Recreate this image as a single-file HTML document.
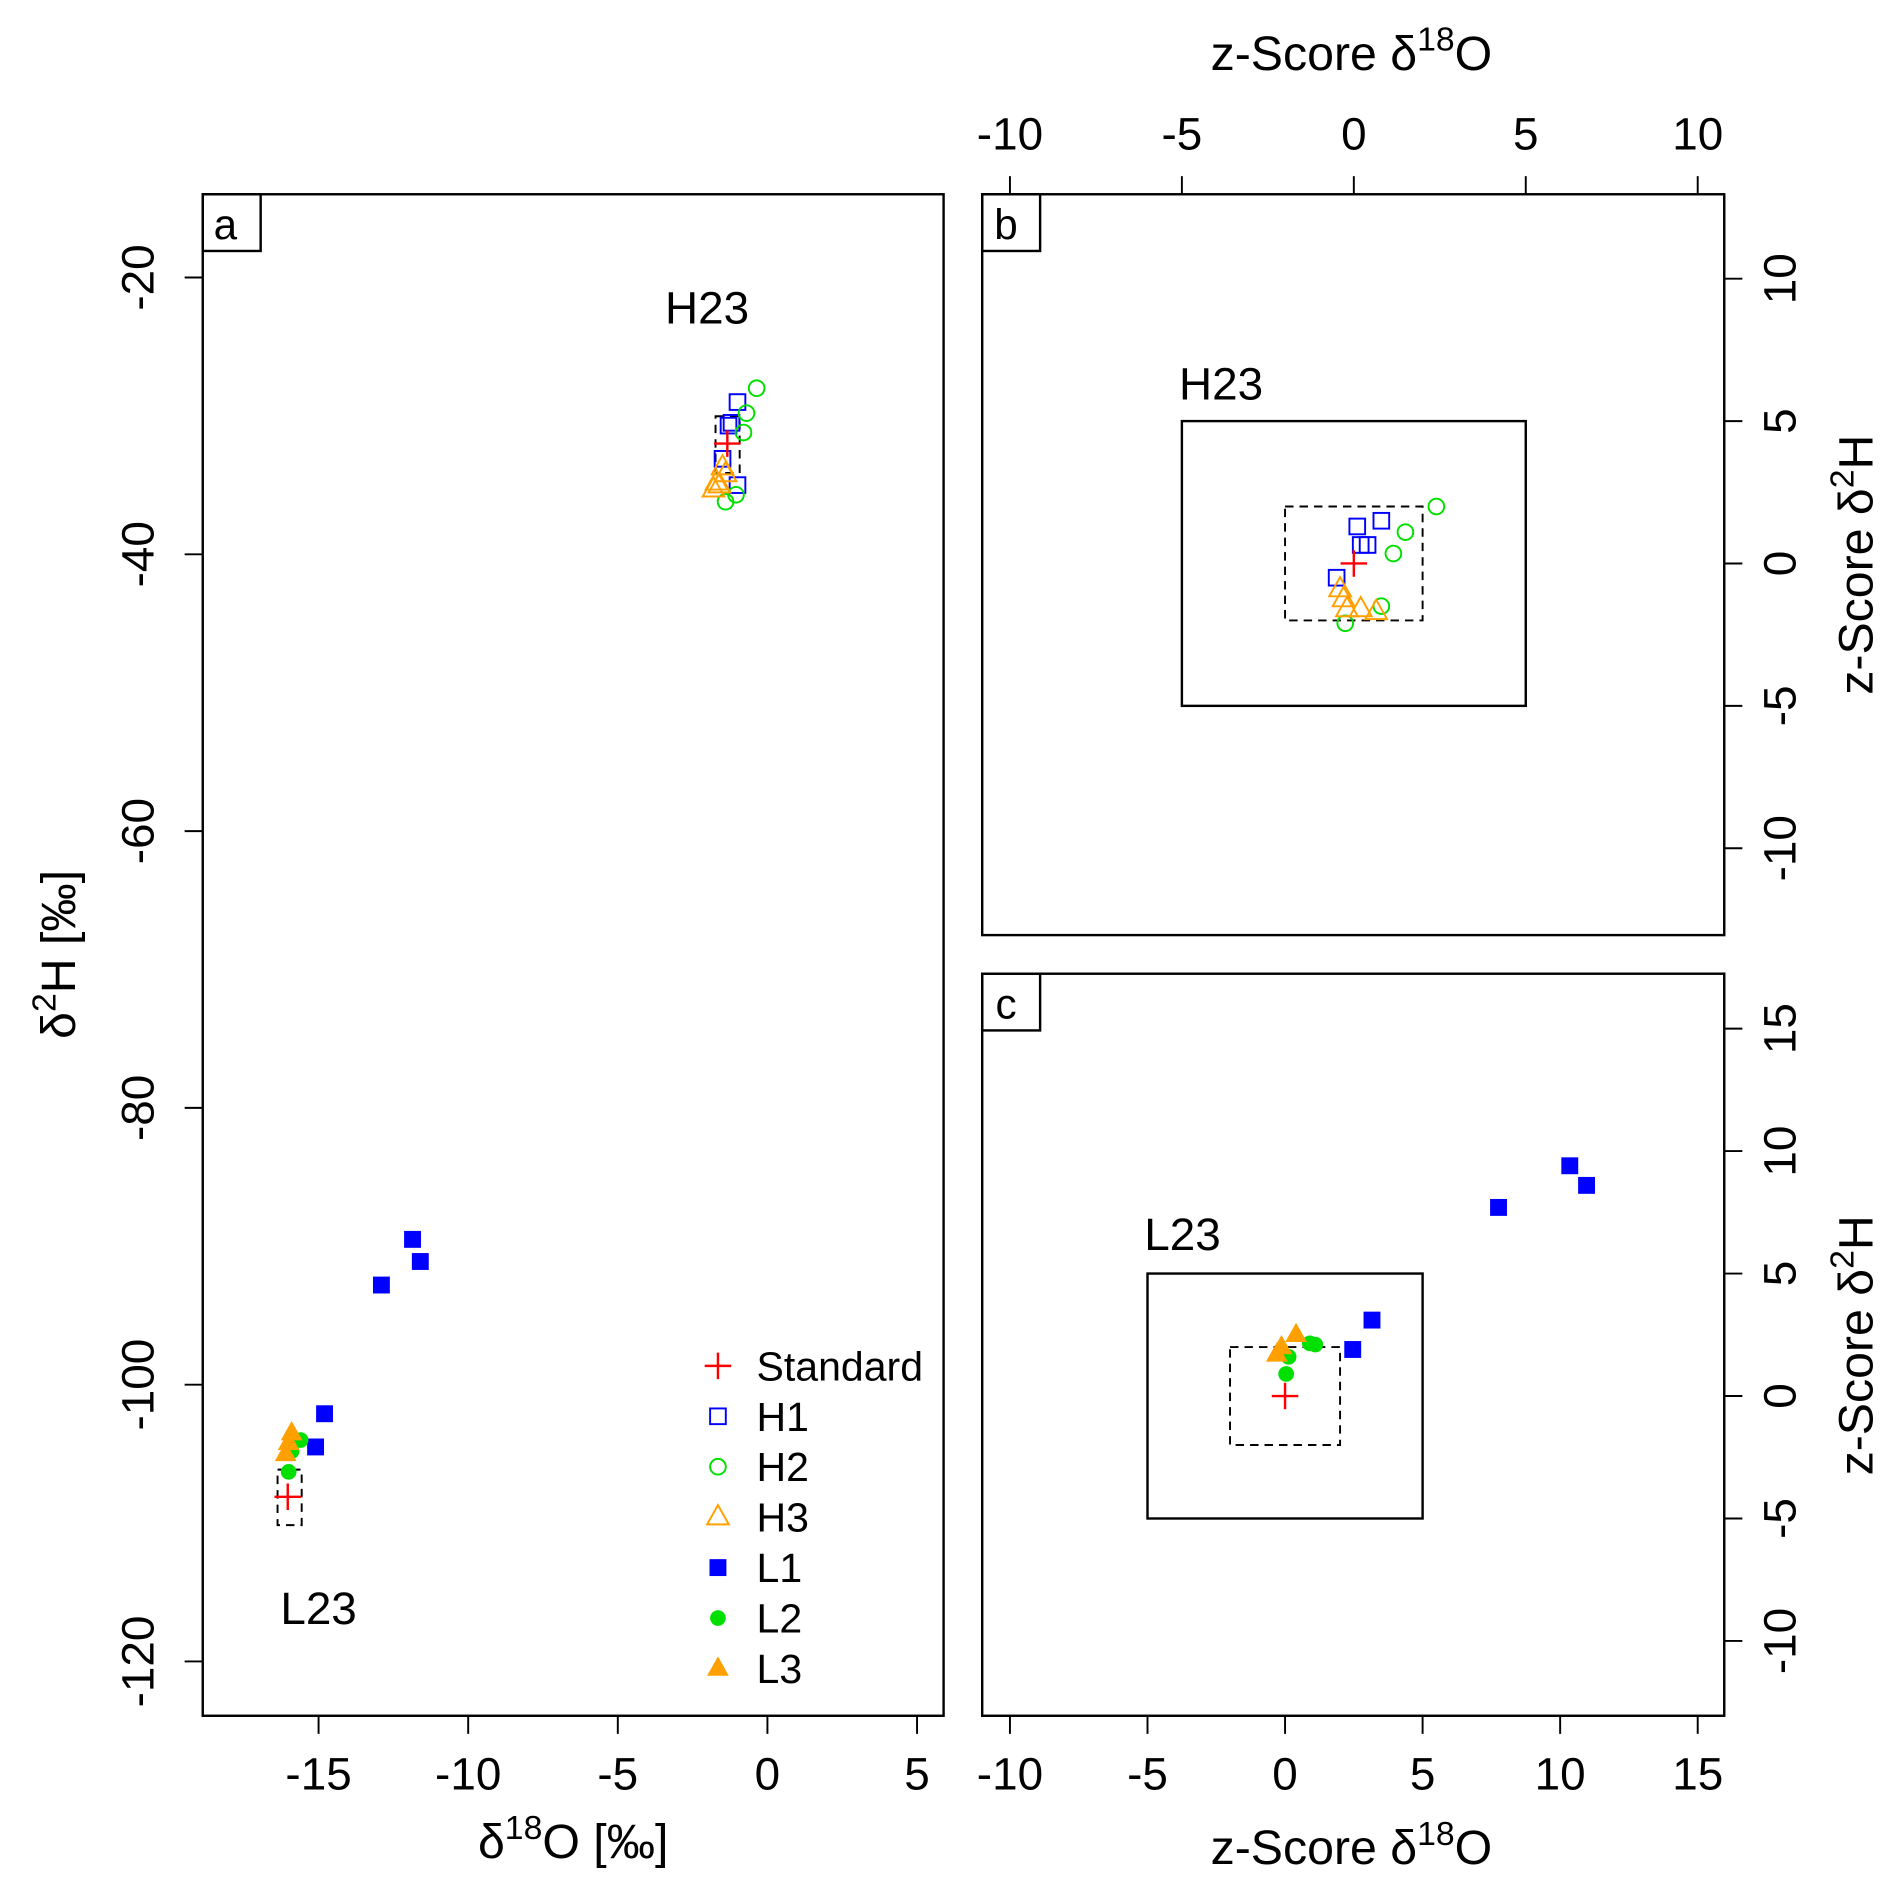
<!DOCTYPE html>
<html><head><meta charset="utf-8"><style>
html,body{margin:0;padding:0;background:#fff;}
svg{display:block;font-family:"Liberation Sans",sans-serif;}
</style></head><body>
<svg id="fig" width="1892" height="1883" viewBox="0 0 1568 1560.6" xmlns="http://www.w3.org/2000/svg"></svg>
<script>
// ---- Panel a data (per mil) ----
const aStdX=[-1.34,-16.03];
const aStdY=[-32.0,-108.1];
const aH1X=[-1.0,-1.2,-1.5,-1.0,-1.3];
const aH1Y=[-29.0,-30.5,-33.1,-35.0,-30.7];
const aH2X=[-0.36,-0.7,-0.8,-1.05,-1.4];
const aH2Y=[-28.0,-29.8,-31.2,-35.7,-36.2];
const aH3X=[-1.5,-1.7,-1.8,-1.4,-1.6];
const aH3Y=[-33.7,-34.8,-35.3,-34.2,-35.0];
const aL1X=[-11.86,-11.6,-12.9,-14.8,-15.1];
const aL1Y=[-89.5,-91.1,-92.8,-102.1,-104.5];
const aL2X=[-15.6,-16.0,-15.9];
const aL2Y=[-104.0,-106.3,-104.8];
const aL3X=[-15.9,-16.0,-16.1];
const aL3Y=[-103.5,-104.2,-105.0];
const aXTicks=[-15,-10,-5,0,5];
const aYTicks=[-20,-40,-60,-80,-100,-120];
// ---- Panel b data (z-scores, H23) ----
const bH1X=[0.8,0.1,0.2,0.4,-0.5];
const bH1Y=[1.5,1.3,0.65,0.65,-0.5];
const bH2X=[2.4,1.5,1.15,0.8,-0.25];
const bH2Y=[2.0,1.1,0.35,-1.5,-2.1];
const bH3X=[-0.4,-0.3,-0.2,0.2,0.65];
const bH3Y=[-0.9,-1.25,-1.6,-1.6,-1.7];
const bXTicks=[-10,-5,0,5,10];
const bYTicks=[10,5,0,-5,-10];
// ---- Panel c data (z-scores, L23) ----
const cL1X=[10.35,10.96,7.76,3.16,2.46];
const cL1Y=[9.4,8.6,7.7,3.1,1.9];
const cL2X=[1.1,0.13,0.04,0.9];
const cL2Y=[2.1,1.6,0.9,2.15];
const cL3X=[0.4,-0.13,-0.3];
const cL3Y=[2.5,2.0,1.7];
const cXTicks=[-10,-5,0,5,10,15];
const cYTicks=[15,10,5,0,-5,-10];

const svg=document.getElementById('fig');
const NS='http://www.w3.org/2000/svg';
const TF=38, TT=40;
function mk(tag,attrs,parent){const e=document.createElementNS(NS,tag);for(const k in attrs)e.setAttribute(k,attrs[k]);(parent||svg).appendChild(e);return e;}
function lin(d0,d1,r0,r1){return v=>r0+(v-d0)*(r1-r0)/(d1-d0);}

const ax=lin(0,5,636,760), ay=lin(-20,-120,230,1377);
const bx=lin(0,10,1122,1407), by=lin(0,10,467,231);
const cx=lin(0,15,1065,1407), cy=lin(0,10,1157,954);

const BLUE='#0000ff',GREEN='#00e000',ORANGE='#ffa000',RED='#ff0000';
function marker(type,x,y,g){
  let e;
  if(type==='plus'){e=mk('path',{d:`M${x-11} ${y}H${x+11}M${x} ${y-11}V${y+11}`,stroke:RED,'stroke-width':2,fill:'none'},g);}
  else if(type==='sq'){e=mk('rect',{x:x-6.5,y:y-6.5,width:13,height:13,fill:'none',stroke:BLUE,'stroke-width':1.6},g);}
  else if(type==='sqf'){e=mk('rect',{x:x-7,y:y-7,width:14,height:14,fill:BLUE},g);}
  else if(type==='circ'){e=mk('circle',{cx:x,cy:y,r:6.5,fill:'none',stroke:GREEN,'stroke-width':1.6},g);}
  else if(type==='circf'){e=mk('circle',{cx:x,cy:y,r:6.5,fill:GREEN},g);}
  else if(type==='tri'){e=mk('path',{d:`M${x} ${y-10}L${x+9} ${y+6}L${x-9} ${y+6}Z`,fill:'none',stroke:ORANGE,'stroke-width':1.6},g);}
  else if(type==='trif'){e=mk('path',{d:`M${x} ${y-10}L${x+9} ${y+6}L${x-9} ${y+6}Z`,fill:ORANGE},g);}
  return e;
}
function series(name,type,xs,ys,sx,sy){
  const g=mk('g',{});
  
  
  for(let i=0;i<xs.length;i++){
    const m=marker(type,sx(xs[i]),sy(ys[i]),g);
    
    
  }
}
function text(str,x,y,size,attrs,name){
  const t=mk('text',Object.assign({x:x,y:y,'font-size':size,fill:'#000'},attrs||{}));
  t.textContent=str;
  
  
  return t;
}
function box(x0,y0,x1,y1,name,dash){
  const r=mk('rect',{x:Math.min(x0,x1),y:Math.min(y0,y1),width:Math.abs(x1-x0),height:Math.abs(y1-y0),fill:'none',stroke:'#000','stroke-width':dash?1.6:2,'stroke-dasharray':dash?'7,5':'none'});
  
  
}

// ---------------- Panel a ----------------
box(168,161,782,1422,'panel-a-frame');
box(168,161,216,208,'panel-a-label-box');
text('a',177,198,35,{},'panel-a-label');
aXTicks.forEach(v=>{const x=ax(v);const l=mk('line',{x1:x,x2:x,y1:1422,y2:1437,stroke:'#000','stroke-width':1.6});
  text(String(v),x,1483,TF,{'text-anchor':'middle'},'x-tick-label');});
aYTicks.forEach(v=>{const y=ay(v);const l=mk('line',{x1:153,x2:168,y1:y,y2:y,stroke:'#000','stroke-width':1.6});
  text(String(v),0,0,TF,{'text-anchor':'middle',transform:`translate(127,${y}) rotate(-90)`},'y-tick-label');});
const xl=text('',475,1540,TT,{'text-anchor':'middle'},'x-axis-title');
xl.innerHTML='δ<tspan dy="-16" font-size="28">18</tspan><tspan dy="16">O [‰]</tspan>';
const yl=text('',0,0,TT,{'text-anchor':'middle',transform:'translate(62,791) rotate(-90)'},'y-axis-title');
yl.innerHTML='δ<tspan dy="-16" font-size="28">2</tspan><tspan dy="16">H [‰]</tspan>';
text('H23',586,268,38,{'text-anchor':'middle'},'h23-label-a');
text('L23',264,1346,38,{'text-anchor':'middle'},'l23-label-a');
box(593,345,613,392,'h-standard-range-a',true);
box(230,1218,250,1264,'l-standard-range-a',true);
series('h1-a','sq',aH1X,aH1Y,ax,ay);
series('h2-a','circ',aH2X,aH2Y,ax,ay);
series('h3-a','tri',aH3X,aH3Y,ax,ay);
series('l1-a','sqf',aL1X,aL1Y,ax,ay);
series('l2-a','circf',aL2X,aL2Y,ax,ay);
series('l3-a','trif',aL3X,aL3Y,ax,ay);
series('standard-a','plus',aStdX,aStdY,ax,ay);
const legNames=['Standard','H1','H2','H3','L1','L2','L3'];
const legTypes=['plus','sq','circ','tri','sqf','circf','trif'];
const lg=mk('g',{});
legNames.forEach((n,i)=>{const y=1132+i*41.8;const m=marker(legTypes[i],595,y,lg);
  text(n,627,y+12,34,{},'legend-entry');});

// ---------------- Panel b ----------------
box(814,161,1429,775,'panel-b-frame');
box(814,161,862,208,'panel-b-label-box');
text('b',824,198,35,{},'panel-b-label');
bXTicks.forEach(v=>{const x=bx(v);const l=mk('line',{x1:x,x2:x,y1:146,y2:161,stroke:'#000','stroke-width':1.6});
  text(String(v),x,124,TF,{'text-anchor':'middle'},'top-x-tick-label');});
bYTicks.forEach(v=>{const y=by(v);const l=mk('line',{x1:1429,x2:1444,y1:y,y2:y,stroke:'#000','stroke-width':1.6});
  text(String(v),0,0,TF,{'text-anchor':'middle',transform:`translate(1488,${y}) rotate(-90)`},'right-y-tick-label-b');});
const tl=text('',1120,58,TT,{'text-anchor':'middle'},'top-axis-title');
tl.innerHTML='z-Score δ<tspan dy="-16" font-size="28">18</tspan><tspan dy="16">O</tspan>';
const rl1=text('',0,0,TT,{'text-anchor':'middle',transform:'translate(1552,468) rotate(-90)'},'right-axis-title-b');
rl1.innerHTML='z-Score δ<tspan dy="-16" font-size="28">2</tspan><tspan dy="16">H</tspan>';
text('H23',1012,331,38,{'text-anchor':'middle'},'h23-label-b');
box(bx(-5),by(5),bx(5),by(-5),'z5-box-b');
box(bx(-2),by(2),bx(2),by(-2),'z2-box-b',true);
series('h1-b','sq',bH1X,bH1Y,bx,by);
series('h2-b','circ',bH2X,bH2Y,bx,by);
series('h3-b','tri',bH3X,bH3Y,bx,by);
series('standard-b','plus',[0],[0],bx,by);

// ---------------- Panel c ----------------
box(814,807,1429,1422,'panel-c-frame');
box(814,807,862,854,'panel-c-label-box');
text('c',825,844,35,{},'panel-c-label');
cXTicks.forEach(v=>{const x=cx(v);const l=mk('line',{x1:x,x2:x,y1:1422,y2:1437,stroke:'#000','stroke-width':1.6});
  text(String(v),x,1483,TF,{'text-anchor':'middle'},'bottom-x-tick-label-c');});
cYTicks.forEach(v=>{const y=cy(v);const l=mk('line',{x1:1429,x2:1444,y1:y,y2:y,stroke:'#000','stroke-width':1.6});
  text(String(v),0,0,TF,{'text-anchor':'middle',transform:`translate(1488,${y}) rotate(-90)`},'right-y-tick-label-c');});
const bl=text('',1120,1545,TT,{'text-anchor':'middle'},'bottom-axis-title-c');
bl.innerHTML='z-Score δ<tspan dy="-16" font-size="28">18</tspan><tspan dy="16">O</tspan>';
const rl2=text('',0,0,TT,{'text-anchor':'middle',transform:'translate(1552,1115) rotate(-90)'},'right-axis-title-c');
rl2.innerHTML='z-Score δ<tspan dy="-16" font-size="28">2</tspan><tspan dy="16">H</tspan>';
text('L23',980,1036,38,{'text-anchor':'middle'},'l23-label-c');
box(cx(-5),cy(5),cx(5),cy(-5),'z5-box-c');
box(cx(-2),cy(2),cx(2),cy(-2),'z2-box-c',true);
series('l1-c','sqf',cL1X,cL1Y,cx,cy);
series('l2-c','circf',cL2X,cL2Y,cx,cy);
series('l3-c','trif',cL3X,cL3Y,cx,cy);
series('standard-c','plus',[0],[0],cx,cy);
</script>
</body></html>
